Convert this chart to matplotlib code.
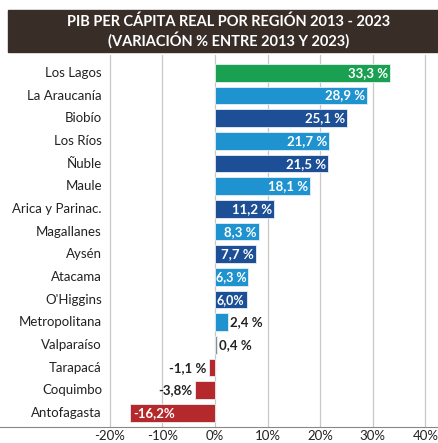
import numpy as np
import matplotlib.pyplot as plt

regiones = ["Los Lagos", "La Araucanía", "Biobío", "Los Ríos", "Ñuble", "Maule",
            "Arica y Parinac.", "Magallanes", "Aysén", "Atacama", "O'Higgins",
            "Metropolitana", "Valparaíso", "Tarapacá", "Coquimbo", "Antofagasta"]
variacion = [33.3, 28.9, 25.1, 21.7, 21.5, 18.1, 11.2, 8.3, 7.7, 6.3, 6.0,
             2.4, 0.4, -1.1, -3.8, -16.2]
etiquetas = ["33,3 %", "28,9 %", "25,1 %", "21,7 %", "21,5 %", "18,1 %", "11,2 %",
             "8,3 %", "7,7 %", "6,3 %", "6,0%", "2,4 %", "0,4 %", "-1,1 %", "-3,8%", "-16,2%"]
ticks = [-20, -10, 0, 10, 20, 30, 40]

verde = "#19a051"
claro = "#1f93d0"
oscuro = "#1d4f97"
gris = "#8a8f96"
rojo = "#b5282b"
colores = [verde] + [claro if i % 2 == 1 else oscuro for i in range(1, 12)] + [gris, rojo, rojo, rojo]

plt.rcParams['font.family'] = ['Lato', 'DejaVu Sans']

fig = plt.figure(figsize=(4.39, 4.43), dpi=100)
ax = fig.add_axes([0, 16 / 443, 1, (427 - 55) / 443])

y = np.arange(len(regiones))
ax.set_xlim(-40.9, 42.6)
ax.set_ylim(15.62, -0.79)
for t in ticks:
    ax.axvline(t, color="#c8c8c8", lw=0.9, zorder=0)
ax.barh(y, variacion, height=0.78, color=colores, edgecolor="#e8eef4", lw=0.6, zorder=2)

for i, (v, lab) in enumerate(zip(variacion, etiquetas)):
    ax.text(-21.5, i, regiones[i], ha="right", va="center", fontsize=9.5, color="#222222")
    if v >= 7:
        ax.text(v - 0.4, i, lab, ha="right", va="center", fontsize=9.5, color="white", fontweight="bold")
    elif v >= 5:
        ax.text(0.2, i, lab, ha="left", va="center", fontsize=9, color="white", fontweight="bold")
    elif v >= 0:
        ax.text(v + 0.4, i, lab, ha="left", va="center", fontsize=9.5, color="#222222", fontweight="bold")
    elif v > -10:
        ax.text(v - 0.6, i, lab, ha="right", va="center", fontsize=9.5, color="#222222", fontweight="bold")
    else:
        ax.text(v + 0.6, i, lab, ha="left", va="center", fontsize=9.5, color="white", fontweight="bold")

for s in ["top", "right", "left"]:
    ax.spines[s].set_visible(False)
ax.spines["bottom"].set_color("#888888")
ax.set_yticks([])
ax.set_xticks(ticks)
ax.set_xticklabels([f"{t}%" for t in ticks], fontsize=9.5, color="#222222")
ax.tick_params(axis="x", length=0, pad=2)

fig.patches.append(plt.Rectangle((8 / 439, 1 - 52 / 443), 1, 42 / 443, transform=fig.transFigure,
                                 color="#382d27", zorder=0))
fig.text(0.52, 1 - 22 / 443, "PIB PER CÁPITA REAL POR REGIÓN 2013 - 2023", ha="center", va="center",
         color="white", fontsize=10.5, fontweight="bold")
fig.text(0.52, 1 - 40 / 443, "(VARIACIÓN % ENTRE 2013 Y 2023)", ha="center", va="center",
         color="white", fontsize=10.5, fontweight="bold")

fig.savefig("out.png", dpi=100)
